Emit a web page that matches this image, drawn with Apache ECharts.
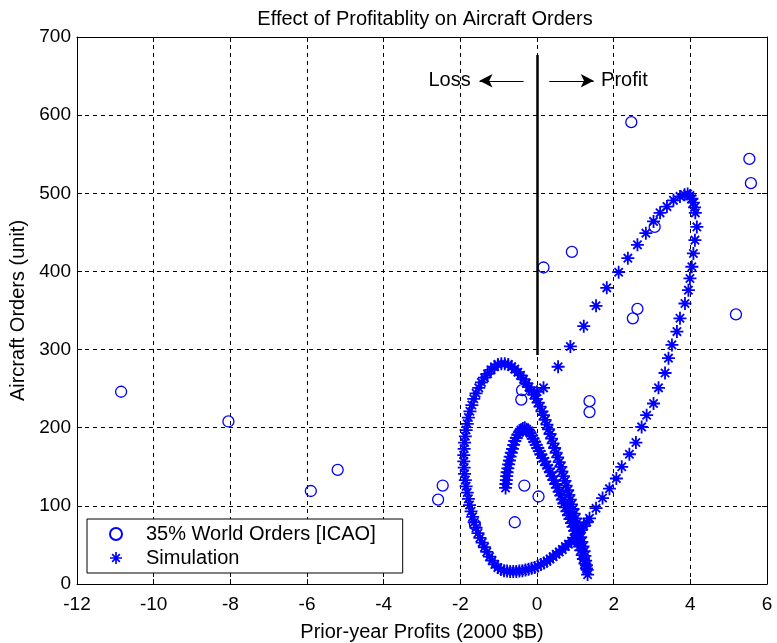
<!DOCTYPE html>
<html>
<head>
<meta charset="utf-8">
<script src="https://cdn.jsdelivr.net/npm/echarts@6/dist/echarts.min.js"></script>
<style>
html,body{margin:0;padding:0;background:#fff;}
#chart{width:777px;height:643px;}
</style>
</head>
<body>
<div id="chart"></div>
<script>
// Observed data: 35% World Orders [ICAO]
const obsX = [-10.85, -8.05, -5.9, -5.2, -2.46, -2.58, -1.62, -0.58, -0.33, 0.04, -0.39, -0.41, 1.37, 1.37, 0.17, 0.91, 3.07, 2.62, 2.5, 5.19, 2.46, 5.54, 5.58];
const obsY = [246, 208, 119, 146, 126, 108, 76, 79, 126, 112, 248, 236, 234, 220, 405, 425, 457, 352, 340, 345, 591, 544, 513];

// Simulation trajectory
// upper (sparse) branch and top of the large loop
const simX1 = [0.0, 0.17, 0.55, 0.87, 1.22, 1.54, 1.82, 2.13, 2.37, 2.62, 2.84, 3.04, 3.21, 3.39, 3.56, 3.73, 3.85, 3.93, 3.99, 4.04, 4.08, 4.11];
const simY1 = [246, 251, 278, 304, 330, 356, 379, 399, 417, 434, 449, 464, 475, 483, 491, 496, 498, 499, 497, 493, 488, 482];
// right branch of the large loop, going down
const simX2 = [4.13, 4.17, 4.12, 4.08, 4.04, 3.99, 3.95, 3.86, 3.73, 3.65, 3.52, 3.43, 3.34, 3.17, 3.04, 2.86, 2.73, 2.58, 2.41, 2.21, 2.07, 1.89, 1.71, 1.54, 1.37];
const simY2 = [475, 457, 440, 423, 406, 391, 376, 359, 340, 323, 306, 289, 270, 251, 231, 216, 201, 181, 166, 150, 135, 122, 110, 97, 84];
// bottom band, going left
const simX3 = [1.3, 1.22, 1.14, 1.06, 0.98, 0.9, 0.82, 0.74, 0.66, 0.58, 0.5, 0.42, 0.34, 0.26, 0.18, 0.1, 0.02, -0.06, -0.14, -0.22, -0.3, -0.38, -0.46, -0.54, -0.62, -0.7, -0.78];
const simY3 = [79, 74, 69, 64, 59, 55, 51, 48, 44, 41, 38, 35, 32, 29, 27, 25, 23, 21, 20, 19, 18, 17, 16.5, 16, 16, 16, 16.5];
// left loop, going up
const simX4 = [-0.86, -0.94, -1.02, -1.1, -1.17, -1.24, -1.31, -1.37, -1.43, -1.49, -1.54, -1.59, -1.64, -1.68, -1.72, -1.76, -1.79, -1.82, -1.85, -1.87, -1.89, -1.9, -1.91, -1.91, -1.9, -1.89, -1.87, -1.85, -1.82, -1.79, -1.75, -1.7, -1.65, -1.59, -1.52, -1.45, -1.37, -1.29, -1.2, -1.11, -1.02, -0.93, -0.84, -0.75, -0.66, -0.58, -0.5];
const simY4 = [17, 18.5, 21, 25, 30, 35, 41, 47, 53, 59, 65, 72, 79, 86, 93, 101, 109, 117, 125, 133, 141, 149, 157, 165, 173, 181, 189, 197, 205, 213, 221, 229, 237, 244, 251, 258, 264, 269, 274, 278, 281, 282, 282, 281, 278, 275, 271];
// band from the top of the left loop down to the tip
const simX5 = [-0.43, -0.35, -0.28, -0.21, -0.14, -0.08, -0.02, 0.03, 0.08, 0.13, 0.17, 0.21, 0.26, 0.3, 0.34, 0.38, 0.42, 0.46, 0.5, 0.54, 0.58, 0.62, 0.65, 0.69, 0.73, 0.76, 0.8, 0.83, 0.87, 0.9, 0.94, 0.97, 1.01, 1.04, 1.08, 1.11, 1.14, 1.17, 1.2, 1.23, 1.25, 1.27, 1.29, 1.31, 1.32];
const simY5 = [267, 262, 257, 252, 247, 242, 237, 232, 227, 221, 216, 210, 204, 198, 192, 186, 180, 174, 168, 162, 156, 150, 144, 138, 132, 126, 120, 114, 108, 102, 96, 90, 84, 78, 72, 66, 60, 54, 48, 42, 36, 30, 24, 18, 12];
// inner hump, from the tip back up and over
const simX6 = [1.29, 1.25, 1.21, 1.18, 1.14, 1.11, 1.08, 1.05, 1.02, 0.98, 0.94, 0.9, 0.86, 0.82, 0.78, 0.74, 0.7, 0.66, 0.62, 0.58, 0.53, 0.49, 0.44, 0.39, 0.35, 0.3, 0.25, 0.2, 0.15, 0.1, 0.06, 0.02, -0.02, -0.06, -0.1, -0.14, -0.18, -0.22, -0.27, -0.32, -0.37, -0.42, -0.46, -0.5, -0.54, -0.58, -0.61, -0.64, -0.67, -0.7, -0.72, -0.74, -0.76, -0.78, -0.79, -0.8, -0.81, -0.82];
const simY6 = [20, 26, 32, 37, 43, 48, 53, 58, 63, 68, 73, 78, 83, 88, 93, 98, 103, 108, 113, 118, 123, 128, 133, 138, 143, 148, 152, 157, 161, 166, 170, 174, 178, 182, 186, 190, 193, 196, 198, 200, 199, 197, 194, 191, 187, 183, 178, 173, 168, 163, 158, 153, 148, 143, 138, 133, 128, 123];

// Axis ticks
const xTicks = [-12, -10, -8, -6, -4, -2, 0, 2, 4, 6];
const yTicks = [0, 100, 200, 300, 400, 500, 600, 700];

// Annotations (data coordinates)
const dividerLine = [[0, 293], [0, 677]];
const lossArrow = [[-0.35, 644], [-1.5, 644]];
const profitArrow = [[0.32, 644], [1.48, 644]];
const lossLabel = [-2.28, 644];
const profitLabel = [2.28, 644];

const FONT = 'Liberation Sans';
const BLUE = '#0000ff';
const STAR = 'path://M0,8.6L20,8.6L20,11.4L0,11.4Z M8.6,0L11.4,0L11.4,20L8.6,20Z M2.6,4.6L4.6,2.6L17.4,15.4L15.4,17.4Z M15.4,2.6L17.4,4.6L4.6,17.4L2.6,15.4Z';

const obsData = obsX.map((x, i) => [x, obsY[i]]);
const simX = [].concat(simX1, simX2, simX3, simX4, simX5, simX6);
const simY = [].concat(simY1, simY2, simY3, simY4, simY5, simY6);
const simData = simX.map((x, i) => [x, simY[i]]);

const chart = echarts.init(document.getElementById('chart'), null, {renderer: 'canvas'});

const baseAxis = {
  type: 'value',
  axisLine: {show: true, onZero: false, lineStyle: {color: '#000', width: 1}},
  axisTick: {show: true, inside: true, length: 5, lineStyle: {color: '#000'}},
};

chart.setOption({
  animation: false,
  backgroundColor: '#fff',
  textStyle: {fontFamily: FONT},
  title: {
    text: 'Effect of Profitablity on Aircraft Orders',
    left: 420, top: 4, textAlign: 'center',
    textStyle: {fontFamily: FONT, fontSize: 20, fontWeight: 'normal', color: '#000'}
  },
  grid: {left: 77, right: 10, top: 37, bottom: 59, containLabel: false, outerBoundsMode: 'none'},
  xAxis: [
    Object.assign({}, baseAxis, {
      min: xTicks[0], max: xTicks[xTicks.length - 1], interval: 2, position: 'bottom',
      axisLabel: {color: '#000', fontSize: 19, fontFamily: FONT, margin: 11},
      splitLine: {show: true, lineStyle: {color: '#000', type: [4, 4], width: 1}},
      name: 'Prior-year Profits (2000 $B)', nameLocation: 'middle', nameGap: 38,
      nameTextStyle: {color: '#000', fontSize: 20, fontFamily: FONT}
    }),
    Object.assign({}, baseAxis, {
      min: xTicks[0], max: xTicks[xTicks.length - 1], interval: 2, position: 'top',
      axisLabel: {show: false}, splitLine: {show: false}
    })
  ],
  yAxis: [
    Object.assign({}, baseAxis, {
      min: yTicks[0], max: yTicks[yTicks.length - 1], interval: 100, position: 'left',
      axisLabel: {color: '#000', fontSize: 19, fontFamily: FONT, margin: 6},
      splitLine: {show: true, lineStyle: {color: '#000', type: [4, 4], width: 1}},
      name: 'Aircraft Orders (unit)', nameLocation: 'middle', nameGap: 42, nameRotate: 90,
      nameTextStyle: {color: '#000', fontSize: 20, fontFamily: FONT}
    }),
    Object.assign({}, baseAxis, {
      min: yTicks[0], max: yTicks[yTicks.length - 1], interval: 100, position: 'right',
      axisLabel: {show: false}, splitLine: {show: false}
    })
  ],
  legend: {
    orient: 'vertical',
    left: 87, top: 519,
    backgroundColor: '#fff',
    borderColor: '#000', borderWidth: 1, borderRadius: 0,
    padding: [5, 27, 5, 22],
    itemWidth: 12, itemHeight: 12, itemGap: 4,
    textStyle: {color: '#000', fontSize: 20, fontFamily: FONT, padding: [0, 0, 0, 19]},
    data: ['35% World Orders [ICAO]', 'Simulation']
  },
  series: [
    {
      name: 'Simulation', type: 'scatter', silent: true,
      data: simData, symbol: STAR, symbolSize: 13,
      itemStyle: {color: BLUE, opacity: 1}, z: 3
    },
    {
      name: '35% World Orders [ICAO]', type: 'scatter', silent: true,
      data: obsData, symbol: 'circle', symbolSize: 11,
      itemStyle: {color: 'rgba(0,0,0,0)', borderColor: BLUE, borderWidth: 1.3, opacity: 1}, z: 4
    },
    {
      name: 'annotations', type: 'scatter', silent: true, data: [],
      markLine: {
        silent: true, animation: false,
        label: {show: false},
        data: [
          [{coord: dividerLine[0], symbol: 'none'}, {coord: dividerLine[1], symbol: 'none', lineStyle: {color: '#000', width: 2.5, type: 'solid'}}],
          [{coord: lossArrow[0], symbol: 'none'}, {coord: lossArrow[1], symbol: 'arrow', symbolSize: [10, 13]}],
          [{coord: profitArrow[0], symbol: 'none'}, {coord: profitArrow[1], symbol: 'arrow', symbolSize: [10, 13]}]
        ],
        lineStyle: {color: '#000', width: 1.2, type: 'solid'}
      },
      markPoint: {
        silent: true, animation: false,
        symbol: 'circle', symbolSize: 1,
        itemStyle: {color: 'rgba(0,0,0,0)'},
        label: {show: true, position: 'inside', color: '#000', fontSize: 20, fontFamily: FONT, formatter: p => p.name},
        data: [
          {name: 'Loss', coord: lossLabel},
          {name: 'Profit', coord: profitLabel}
        ]
      },
      z: 5
    }
  ]
});
</script>
</body>
</html>
